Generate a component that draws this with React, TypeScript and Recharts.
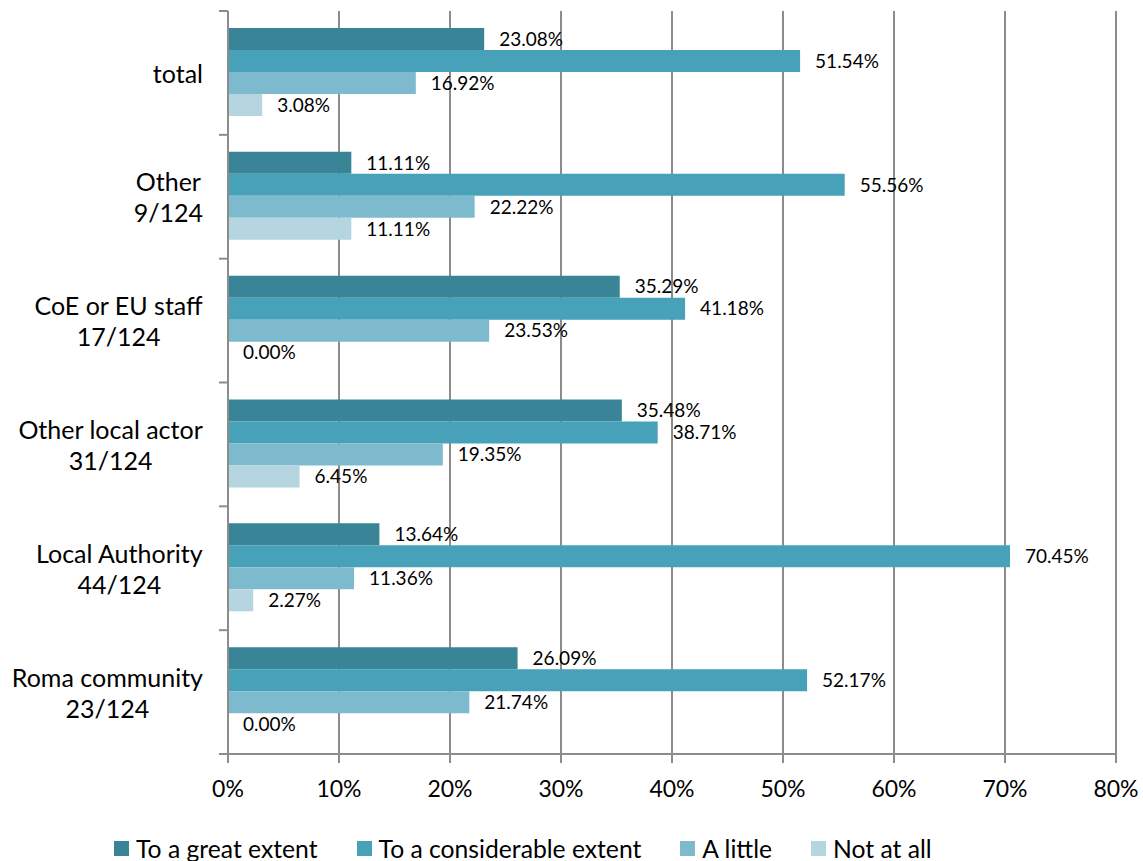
import React from 'react';
import { BarChart, Bar, XAxis, YAxis, CartesianGrid, Legend, LabelList } from 'recharts';

const categories = [
  'total',
  'Other\n9/124',
  'CoE or EU staff\n17/124',
  'Other local actor\n31/124',
  'Local Authority\n44/124',
  'Roma community\n23/124',
];

const greatExtent = [23.08, 11.11, 35.29, 35.48, 13.64, 26.09];
const considerableExtent = [51.54, 55.56, 41.18, 38.71, 70.45, 52.17];
const aLittle = [16.92, 22.22, 23.53, 19.35, 11.36, 21.74];
const notAtAll = [3.08, 11.11, 0, 6.45, 2.27, 0];

const xTicks = [0, 10, 20, 30, 40, 50, 60, 70, 80];

const series = [
  { key: 'great', name: 'To a great extent', color: '#398597' },
  { key: 'considerable', name: 'To a considerable extent', color: '#47a1b8' },
  { key: 'little', name: 'A little', color: '#7dbace' },
  { key: 'notAtAll', name: 'Not at all', color: '#b5d5e0' },
];

const data = categories.map((c, i) => ({
  category: c,
  great: greatExtent[i],
  considerable: considerableExtent[i],
  little: aLittle[i],
  notAtAll: notAtAll[i],
}));

const FONT = 'Lato';
const GRID = '#8c8c8c';
const PLOT_TOP = 11;
const PLOT_BOTTOM = 754;
const BAND = (PLOT_BOTTOM - PLOT_TOP) / categories.length;

let ctx: CanvasRenderingContext2D | null = null;
const measure = (text: string, size: number) => {
  if (!ctx) ctx = document.createElement('canvas').getContext('2d');
  if (!ctx) return text.length * size * 0.5;
  ctx.font = `${size}px ${FONT}`;
  return ctx.measureText(text).width;
};

// category label: lines centred on each other, block right-aligned
const CategoryTick = (props: any) => {
  const { y, payload, index } = props;
  const lines: string[] = String(payload.value).split('\n');
  const size = 25;
  const maxW = Math.max(...lines.map((l) => measure(l, size)));
  const cx = 203 - maxW / 2;
  const last = index === categories.length - 1;
  return (
    <g>
      <line x1={219} x2={228} y1={y - BAND / 2} y2={y - BAND / 2} stroke={GRID} strokeWidth={2} />
      {last && <line x1={219} x2={228} y1={y + BAND / 2} y2={y + BAND / 2} stroke={GRID} strokeWidth={2} />}
      {lines.map((l, i) => (
        <text
          key={i}
          x={cx}
          y={y + (i - (lines.length - 1) / 2) * 31}
          textAnchor="middle"
          dominantBaseline="central"
          fontSize={size}
          fontFamily={FONT}
          fill="#000"
        >
          {l}
        </text>
      ))}
    </g>
  );
};

const LegendContent = () => (
  <div
    style={{
      display: 'flex',
      alignItems: 'center',
      height: 26,
      paddingLeft: 114,
      fontFamily: FONT,
      fontSize: 24.7,
      color: '#000',
      whiteSpace: 'nowrap',
    }}
  >
    {series.map((s) => (
      <div key={s.key} style={{ display: 'flex', alignItems: 'center', marginRight: 39 }}>
        <div style={{ width: 15, height: 15, background: s.color, marginRight: 7 }} />
        <span>{s.name}</span>
      </div>
    ))}
  </div>
);

const App = () => {
  return (
    <div style={{ position: 'absolute', left: 0, top: 0, width: 1143, height: 861, background: '#fff' }}>
      <BarChart
        width={1143}
        height={861}
        data={data}
        layout="vertical"
        margin={{ top: PLOT_TOP, right: 27, left: 0, bottom: 0 }}
        barCategoryGap={17}
        barGap={0}
        style={{ fontFamily: FONT }}
      >
        <CartesianGrid horizontal={false} stroke={GRID} strokeWidth={2} />
        <XAxis
          type="number"
          domain={[0, 80]}
          ticks={xTicks}
          tickFormatter={(v) => `${v}%`}
          height={81}
          tickSize={9}
          tickMargin={18}
          stroke={GRID}
          strokeWidth={2}
          tick={{ fill: '#000', fontSize: 23, fontFamily: FONT }}
        />
        <YAxis
          type="category"
          dataKey="category"
          width={228}
          tickLine={false}
          stroke={GRID}
          strokeWidth={2}
          tick={<CategoryTick />}
          interval={0}
        />
        <Legend verticalAlign="bottom" content={<LegendContent />} />
        {series.map((s) => (
          <Bar
            key={s.key}
            dataKey={s.key}
            name={s.name}
            fill={s.color}
            minPointSize={0.01}
            isAnimationActive={false}
          >
            <LabelList
              dataKey={s.key}
              position="right"
              offset={15}
              formatter={(v: any) => `${Number(v).toFixed(2)}%`}
              style={{ fill: '#000', fontSize: 19, fontFamily: FONT }}
            />
          </Bar>
        ))}
      </BarChart>
    </div>
  );
};

export default App;
